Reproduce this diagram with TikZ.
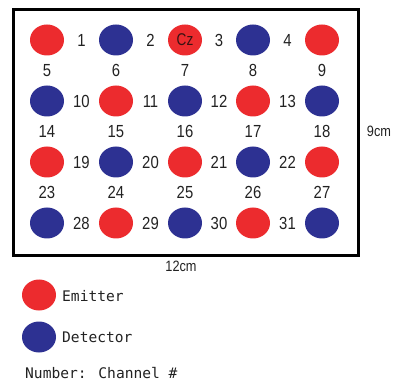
\documentclass[tikz,border=0pt]{standalone}
\usepackage{fontspec}
\setmainfont{Liberation Sans}
\newfontfamily\monof{DejaVu Sans Mono}
\newfontfamily\narf[FakeStretch=0.85]{Liberation Sans}
\newfontfamily\czf[FakeStretch=0.8]{Liberation Sans}
\usetikzlibrary{shapes.geometric,calc}
\definecolor{emred}{HTML}{EC2B2E}
\definecolor{detblue}{HTML}{2D3192}
\definecolor{txt}{HTML}{222222}
\definecolor{cztxt}{HTML}{3A1212}
\begin{document}
\begin{tikzpicture}[x=1pt,y=-1pt,
  em/.style={ellipse,fill=emred,minimum width=34pt,minimum height=31pt,inner sep=0pt},
  det/.style={ellipse,fill=detblue,minimum width=34pt,minimum height=31pt,inner sep=0pt},
  num/.style={font=\narf\fontsize{17.5}{17.5}\selectfont,text=txt,inner sep=0pt},
  dim/.style={font=\narf\fontsize{15}{15}\selectfont,text=txt,inner sep=0pt},
  leg/.style={font=\monof\fontsize{14.6}{15}\selectfont,text=txt,anchor=west,inner sep=0pt}]
\useasboundingbox (0,0) rectangle (396,387);
\node[draw,line width=2.6pt,minimum width=345pt,minimum height=246pt,inner sep=0pt,anchor=north west] (frame) at (12,8) {};
\foreach \r/\y in {1/40,2/101,3/162,4/223}{
  \foreach \c/\x in {1/47,2/116,3/185,4/253,5/322}{
    \pgfmathtruncatemacro\s{mod(\r+\c,2)}
    \ifnum\s=0 \node[em] (c\r\c) at (\x,\y) {};
    \else \node[det] (c\r\c) at (\x,\y) {};
    \fi
  }
}
\node[font=\czf\fontsize{17}{17}\selectfont,text=cztxt,inner sep=0pt] (cz) at (c13) {Cz};
\foreach \r in {1,2,3,4}{
  \foreach \c in {1,2,3,4}{
    \pgfmathtruncatemacro\nx{\c+1}
    \pgfmathtruncatemacro\n{(\r-1)*9+\c}
    \node[num] (n\n) at ($(c\r\c)!0.5!(c\r\nx)$) {\n};
  }
}
\foreach \r in {1,2,3}{
  \foreach \c in {1,2,3,4,5}{
    \pgfmathtruncatemacro\ry{\r+1}
    \pgfmathtruncatemacro\n{(\r-1)*9+4+\c}
    \node[num] (n\n) at ($(c\r\c)!0.5!(c\ry\c)$) {\n};
  }
}
\node[dim] (h) at (379,131) {9cm};
\node[dim] (w) at (181,266) {12cm};
\node[em] (le) at (39,295) {};
\node[det] (ld) at (39,337) {};
\node[leg] (tle) at (62,296) {Emitter};
\node[leg] (tld) at (62,337) {Detector};
\node[leg] (tn) at (25,373) {Number: Channel \#};
\end{tikzpicture}
\end{document}
